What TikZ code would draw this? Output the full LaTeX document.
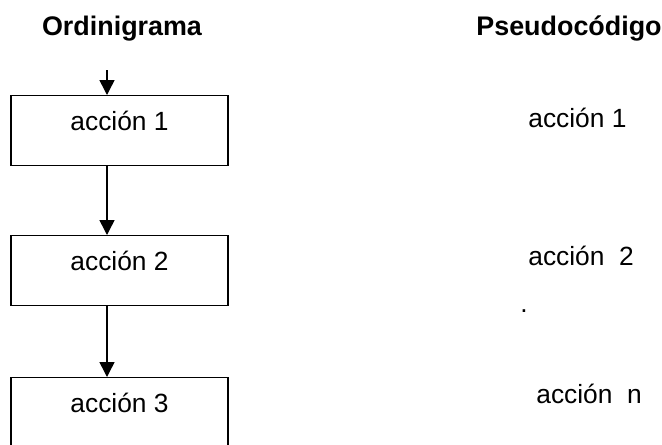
\documentclass[tikz,border=0pt]{standalone}
\usepackage{fontspec}
\setmainfont{Liberation Sans}
\usepackage{tikz}
\usetikzlibrary{arrows.meta}

\begin{document}
\begin{tikzpicture}[x=0.02cm, y=-0.02cm,
    every node/.style={font=\fontsize{15}{18}\selectfont},
    paso/.style={draw, line width=0.8pt, inner sep=0pt, minimum width=4.34cm,
                 text height=0.7cm, text depth=0.7cm, anchor=north},
    flecha/.style={line width=0.85pt, -{Triangle[width=0.3cm, length=0.3cm]}}]

    \useasboundingbox (0,0) rectangle (662,444);

    % titles
    \node[anchor=base, font=\fontsize{15.3}{18}\selectfont\bfseries] (tord) at (122,35) {Ordinigrama};
    \node[anchor=base, font=\fontsize{15.3}{18}\selectfont\bfseries] (tpse) at (569,35) {Pseudocódigo};

    % ordinigrama
    \coordinate (entrada) at (107,70);
    \node[paso] (b1) at (119.5,95) {acción 1};
    \node[paso] (b2) at (119.5,235) {acción 2};
    \node[paso] (b3) at (119.5,377) {acción 3};

    \draw[flecha] (entrada) -- (b1.north -| entrada);
    \draw[flecha] (b1.south -| entrada) -- (b2.north -| entrada); % 1 -> 2
    \draw[flecha] (b2.south -| entrada) -- (b3.north -| entrada); % 2 -> 3

    % pseudocodigo
    \node[anchor=base west, inner sep=0pt] (p1) at (528,127) {acción 1};
    \node[anchor=base west, inner sep=0pt] (p2) at (528,265) {acción \ 2};
    \node[anchor=base west, inner sep=0pt] (pp) at (520,312) {.};
    \node[anchor=base west, inner sep=0pt] (pn) at (536,403) {acción \ n};

\end{tikzpicture}
\end{document}
